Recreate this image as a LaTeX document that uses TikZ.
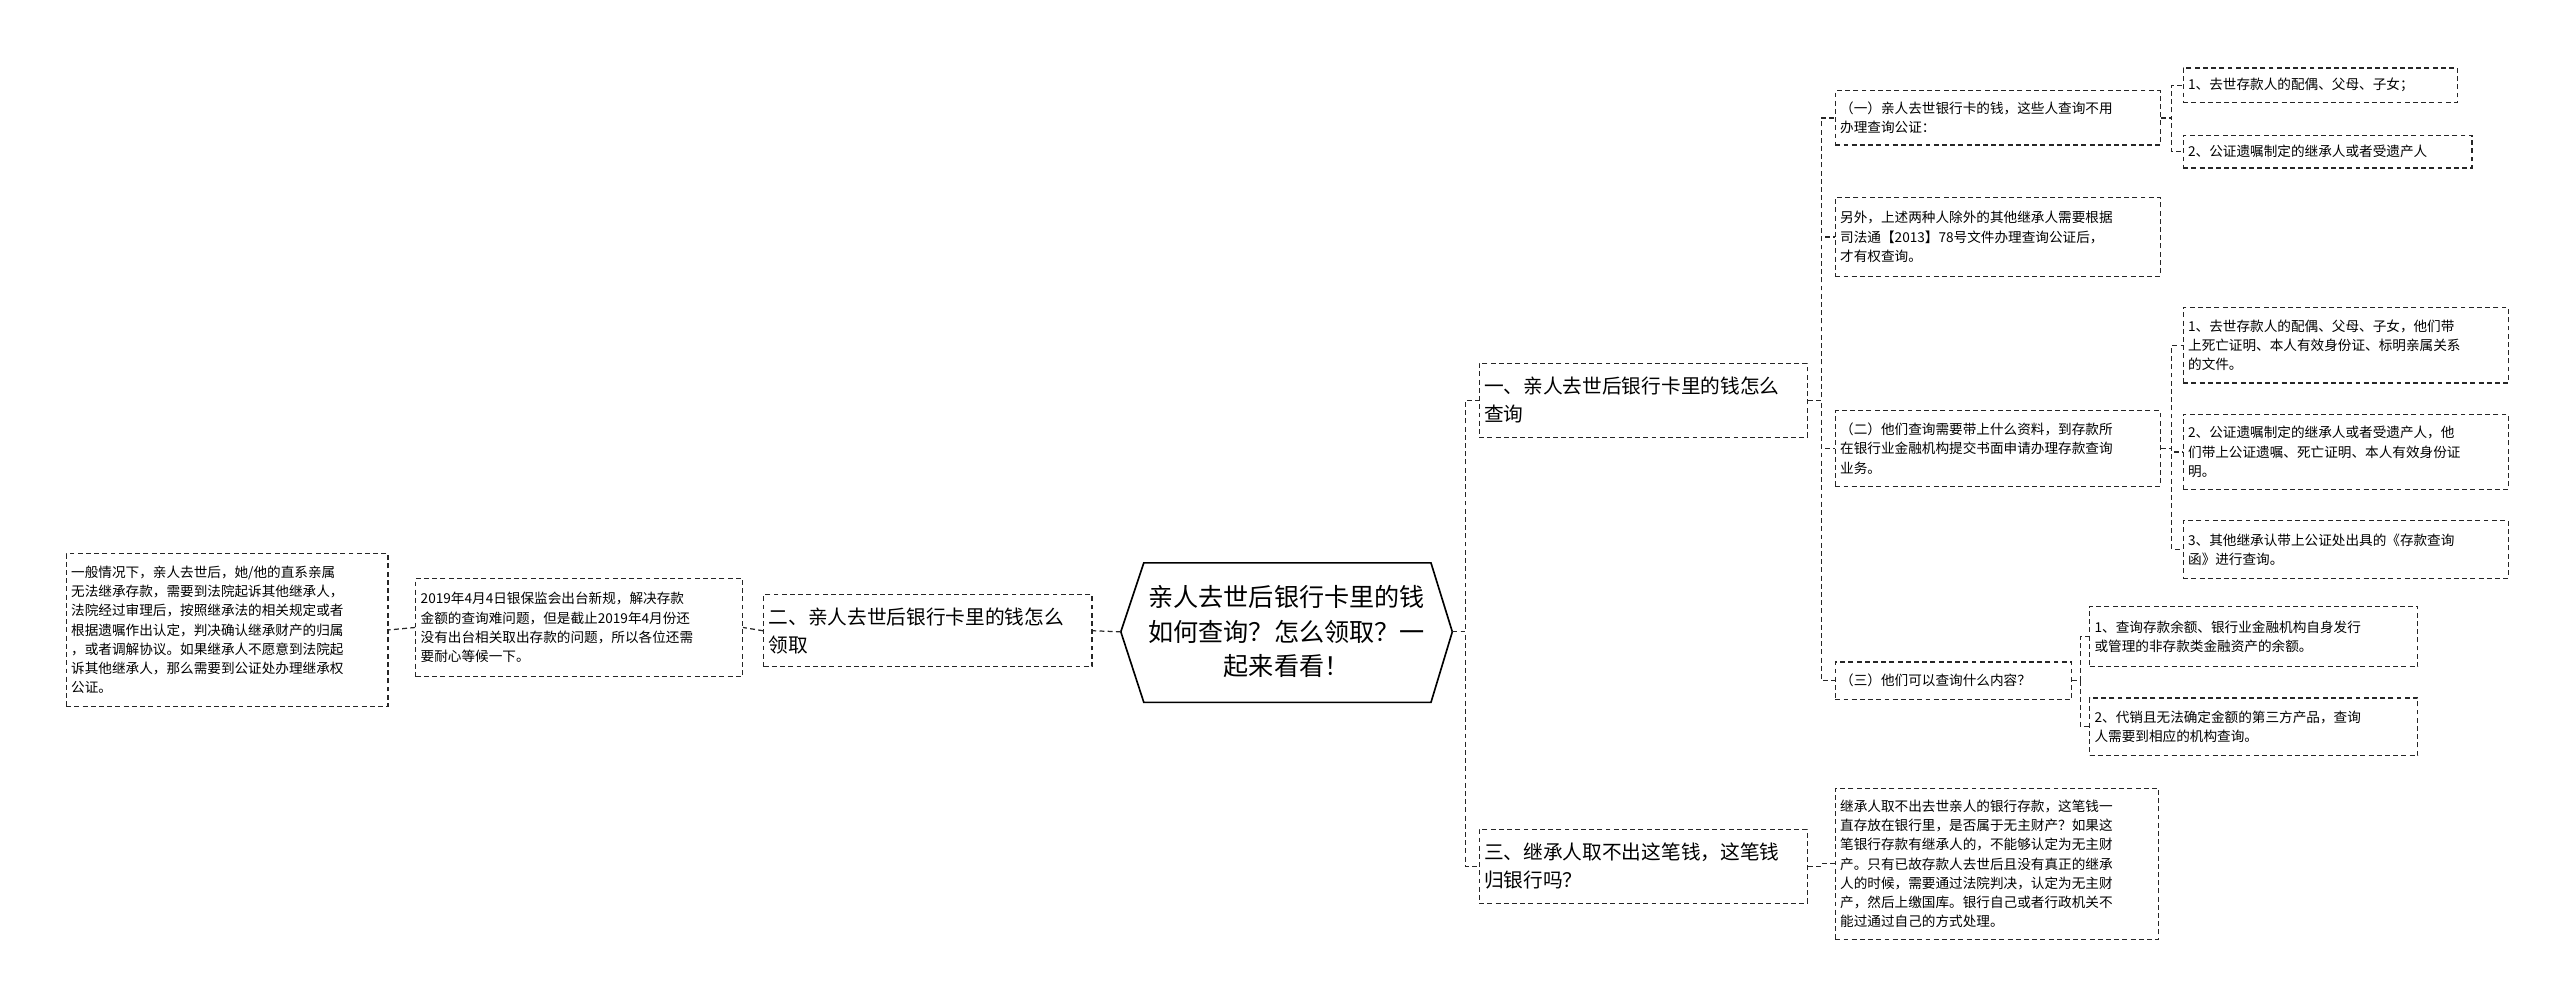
\documentclass[tikz,border=0pt]{standalone}
\usepackage{fontspec}
\setmainfont{Noto Sans CJK SC}
\usetikzlibrary{calc}
\begin{document}
\begin{tikzpicture}[x=1pt,y=-1pt,
 box/.style={draw=black!85,line width=0.75pt,dash pattern=on 3pt off 2pt,anchor=north west,align=left,inner xsep=3pt,inner ysep=0pt,font=\fontsize{8.3}{11.7}\selectfont},
 big/.style={box,font=\fontsize{12}{17}\selectfont},
 conn/.style={draw=black!85,line width=0.75pt,dash pattern=on 3pt off 2pt}]
\useasboundingbox (0,0) rectangle (1560,609);
\newcommand{\bx}[7][box]{\node[#1,text width=#4-#2-6,minimum height=#5-#3] (#6) at (#2,#3) {#7};}
\newcommand{\elbow}[2]{\draw[conn] let \p1=(#1.east),\p2=(#2.west) in (\p1) -- ({(\x1+\x2)/2},\y1) |- (\p2);}
% center
\draw[line width=1pt] (683,385) -- (697,343) -- (872,343) -- (885,385) -- (872,428) -- (697,428) -- cycle;
\node[inner sep=0pt,align=center,font=\fontsize{15.3}{21}\selectfont] (c) at (784,385) {亲人去世后银行卡里的钱\\如何查询？怎么领取？一\\起来看看！};
\coordinate (cL) at (683,385); \coordinate (cR) at (885,385);
% branches
\bx[big]{901}{221}{1101}{266}{b1}{一、亲人去世后银行卡里的钱怎么\\查询}
\bx[big]{465}{362}{665}{406}{b2}{二、亲人去世后银行卡里的钱怎么\\领取}
\bx[big]{901}{505}{1101}{550}{b3}{三、继承人取不出这笔钱，这笔钱\\归银行吗？}
% left
\bx{253}{352}{452}{412}{l1}{2019年4月4日银保监会出台新规，解决存款\\金额的查询难问题，但是截止2019年4月份还\\没有出台相关取出存款的问题，所以各位还需\\要耐心等候一下。}
\bx{40}{337}{236}{430}{l2}{一般情况下，亲人去世后，她/他的直系亲属\\无法继承存款，需要到法院起诉其他继承人，\\法院经过审理后，按照继承法的相关规定或者\\根据遗嘱作出认定，判决确认继承财产的归属\\，或者调解协议。如果继承人不愿意到法院起\\诉其他继承人，那么需要到公证处办理继承权\\公证。}
% right subs
\bx{1118}{55}{1316}{88}{s1}{（一）亲人去世银行卡的钱，这些人查询不用\\办理查询公证：}
\bx{1118}{120}{1316}{168}{s2}{另外，上述两种人除外的其他继承人需要根据\\司法通【2013】78号文件办理查询公证后，\\才有权查询。}
\bx{1118}{250}{1316}{296}{s3}{（二）他们查询需要带上什么资料，到存款所\\在银行业金融机构提交书面申请办理存款查询\\业务。}
\bx{1118}{403}{1262}{426}{s4}{（三）他们可以查询什么内容？}
\bx{1330}{41}{1497}{62}{a1}{1、去世存款人的配偶、父母、子女；}
\bx{1330}{82}{1506}{102}{a2}{2、公证遗嘱制定的继承人或者受遗产人}
\bx{1330}{187}{1528}{233}{d1}{1、去世存款人的配偶、父母、子女，他们带\\上死亡证明、本人有效身份证、标明亲属关系\\的文件。}
\bx{1330}{252}{1528}{298}{d2}{2、公证遗嘱制定的继承人或者受遗产人，他\\们带上公证遗嘱、死亡证明、本人有效身份证\\明。}
\bx{1330}{317}{1528}{352}{d3}{3、其他继承认带上公证处出具的《存款查询\\函》进行查询。}
\bx{1273}{369}{1473}{406}{e1}{1、查询存款余额、银行业金融机构自身发行\\或管理的非存款类金融资产的余额。}
\bx{1273}{425}{1473}{460}{e2}{2、代销且无法确定金额的第三方产品，查询\\人需要到相应的机构查询。}
\bx{1118}{480}{1315}{572}{t1}{继承人取不出去世亲人的银行存款，这笔钱一\\直存放在银行里，是否属于无主财产？如果这\\笔银行存款有继承人的，不能够认定为无主财\\产。只有已故存款人去世后且没有真正的继承\\人的时候，需要通过法院判决，认定为无主财\\产，然后上缴国库。银行自己或者行政机关不\\能过通过自己的方式处理。}
% connectors
\draw[conn] (cR) -- (893,385) |- (b1.west);
\draw[conn] (cR) -- (893,385) |- (b3.west);
\draw[conn] (cL) -- (b2.east);
\draw[conn] (b2.west) -- (l1.east);
\draw[conn] (l1.west) -- (l2.east);
\elbow{b1}{s1}\elbow{b1}{s2}\elbow{b1}{s3}\elbow{b1}{s4}
\elbow{s1}{a1}\elbow{s1}{a2}
\elbow{s3}{d1}\elbow{s3}{d2}\elbow{s3}{d3}
\elbow{s4}{e1}\elbow{s4}{e2}
\elbow{b3}{t1}
\end{tikzpicture}
\end{document}
